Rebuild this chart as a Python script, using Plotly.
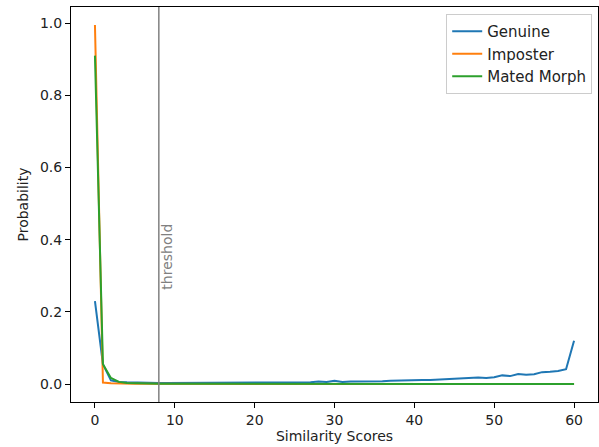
import plotly.graph_objects as go

scores = list(range(61))

genuine = [0.230, 0.055, 0.010, 0.006, 0.005, 0.004, 0.004, 0.003, 0.003, 0.003,
           0.003, 0.004, 0.004, 0.004, 0.004, 0.004, 0.005, 0.004, 0.004, 0.004,
           0.004, 0.005, 0.004, 0.004, 0.005, 0.004, 0.005, 0.005, 0.007, 0.006,
           0.009, 0.006, 0.007, 0.007, 0.006, 0.007, 0.008, 0.009, 0.010, 0.011,
           0.010, 0.011, 0.011, 0.012, 0.013, 0.014, 0.016, 0.018, 0.018, 0.017,
           0.019, 0.024, 0.022, 0.028, 0.026, 0.027, 0.033, 0.034, 0.036, 0.041,
           0.120]
imposter = [0.995, 0.004, 0.002, 0.001, 0.001, 0.001, 0.0008, 0.0006, 0.0005, 0.0004,
            0.0004, 0.0003, 0.0003, 0.0003, 0.0002, 0.0002, 0.0002, 0.0002, 0.0001, 0.0001,
            0.0001, 0.0001, 0.0001, 0.0001, 0.0001, 0.0001, 0.0001, 0.0001, 0.0001, 0.0001,
            0.0001, 0.0001, 0.0001, 0.0001, 0.0001, 0.0001, 0.0001, 0.0001, 0.0001, 0.0001,
            0.0, 0.0, 0.0, 0.0, 0.0, 0.0, 0.0, 0.0, 0.0, 0.0,
            0.0, 0.0, 0.0, 0.0, 0.0, 0.0, 0.0, 0.0, 0.0, 0.0,
            0.0]
mated_morph = [0.910, 0.055, 0.017, 0.006, 0.003, 0.002, 0.0015, 0.001, 0.001, 0.0008,
               0.0007, 0.0006, 0.0005, 0.0005, 0.0004, 0.0004, 0.0003, 0.0003, 0.0003, 0.0002,
               0.0002, 0.0002, 0.0002, 0.0002, 0.0001, 0.0001, 0.0001, 0.0001, 0.0001, 0.0001,
               0.0001, 0.0001, 0.0001, 0.0001, 0.0001, 0.0001, 0.0001, 0.0001, 0.0001, 0.0001,
               0.0, 0.0, 0.0, 0.0, 0.0, 0.0, 0.0, 0.0, 0.0, 0.0,
               0.0, 0.0, 0.0, 0.0, 0.0, 0.0, 0.0, 0.0, 0.0, 0.0,
               0.0]

threshold = 8
series_names = ["Genuine", "Imposter", "Mated Morph"]
colors = ["#1f77b4", "#ff7f0e", "#2ca02c"]
x_ticks = [0, 10, 20, 30, 40, 50, 60]
y_ticks = [0.0, 0.2, 0.4, 0.6, 0.8, 1.0]

font_family = "DejaVu Sans, sans-serif"
FS = 14

fig = go.Figure()
for name, vals, col in zip(series_names, [genuine, imposter, mated_morph], colors):
    fig.add_trace(go.Scatter(x=scores, y=vals, mode="lines", name=name,
                             line=dict(color=col, width=2)))

fig.add_vline(x=threshold, line=dict(color="#808080", width=1.5))
fig.add_annotation(x=threshold, y=0.25, xref="x", yref="y", text="threshold",
                   textangle=-90, showarrow=False, xanchor="left", yanchor="bottom",
                   xshift=-2, yshift=2, font=dict(color="#808080", size=FS, family=font_family))

axis_common = dict(showline=True, linecolor="black", linewidth=1, mirror=True,
                   ticks="outside", ticklen=5, tickwidth=1, tickcolor="black",
                   showgrid=False, zeroline=False,
                   tickfont=dict(size=FS, color="#222", family=font_family))

fig.update_xaxes(range=[-3, 63], tickvals=x_ticks,
                 title=dict(text="Similarity Scores", standoff=4,
                            font=dict(size=FS, color="#222", family=font_family)),
                 **axis_common)
fig.update_yaxes(range=[-0.04975, 1.04475], tickvals=y_ticks, tickformat=".1f",
                 title=dict(text="Probability", standoff=8,
                            font=dict(size=FS, color="#222", family=font_family)),
                 **axis_common)

fig.update_layout(width=599, height=447,
                  margin=dict(l=71, r=1, t=7, b=45, autoexpand=False),
                  paper_bgcolor="white", plot_bgcolor="white",
                  font=dict(family=font_family, size=FS, color="#222"),
                  legend=dict(x=0.989, y=0.982, xanchor="right", yanchor="top",
                              bgcolor="rgba(255,255,255,0.8)", bordercolor="#cccccc",
                              borderwidth=1, font=dict(size=15, family=font_family),
                              tracegroupgap=0, itemwidth=30))

fig.write_html("out.html", config={"displayModeBar": False},
               post_script="document.body.style.margin='0';document.body.style.overflow='hidden';")
